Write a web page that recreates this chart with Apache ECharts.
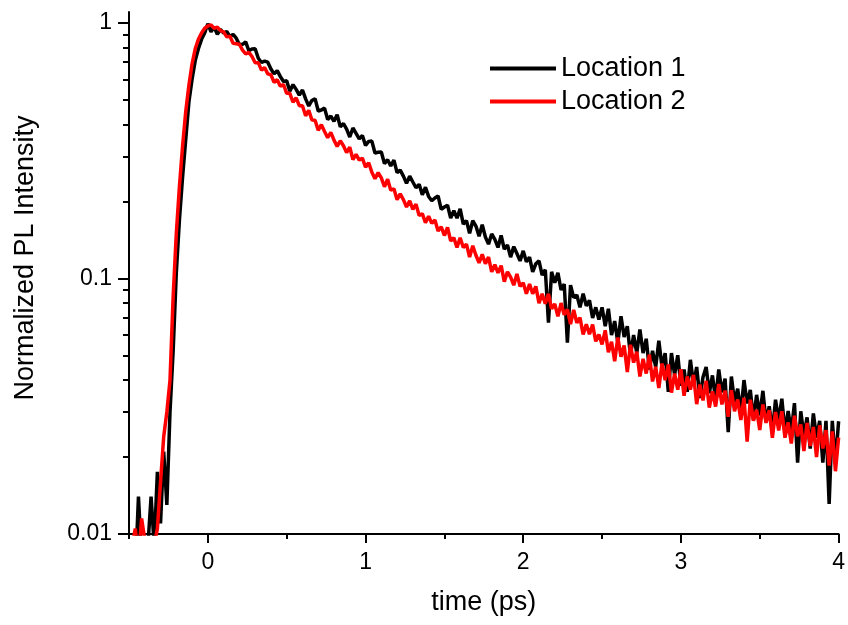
<!DOCTYPE html>
<html>
<head>
<meta charset="utf-8">
<script src="https://cdn.jsdelivr.net/npm/echarts@6.0.0/dist/echarts.min.js"></script>
<style>
  html, body { margin: 0; padding: 0; background: #fff; }
  #chart { width: 848px; height: 625px; }
</style>
</head>
<body>
<div id="chart"></div>
<script>
// time axis: samples every 0.02 ps starting at -0.5 ps
const T_START = -0.5;
const T_STEP = 0.02;

// Location 1 (black), normalized PL intensity
const loc1 = [
  0.006, 0.008, 0.007, 0.014, 0.008, 0.006, 0.009, 0.014, 0.009, 0.0175, 0.011, 0.021,
  0.013, 0.030, 0.052, 0.105, 0.17, 0.25, 0.35, 0.49, 0.60, 0.71, 0.79, 0.86, 0.91,
  0.99, 0.92, 0.96, 0.90, 0.94, 0.91,
  0.923, 0.881, 0.90, 0.869, 0.82, 0.822, 0.84,
  0.776, 0.788, 0.79, 0.725, 0.698, 0.707, 0.70, 0.658, 0.63, 0.649, 0.615, 0.588, 0.592,
  0.539, 0.572, 0.548, 0.52, 0.545, 0.503, 0.472, 0.496, 0.504, 0.451, 0.455, 0.463,
  0.418, 0.431, 0.411, 0.436, 0.391, 0.403, 0.383, 0.357, 0.387, 0.369, 0.351, 0.362, 0.331,
  0.343, 0.344, 0.309, 0.311, 0.312, 0.281, 0.291, 0.275, 0.29, 0.259, 0.265, 0.251,
  0.235, 0.251, 0.238, 0.226, 0.233, 0.212, 0.227, 0.209, 0.201, 0.206, 0.21, 0.186, 0.19,
  0.193, 0.172, 0.184, 0.172, 0.187, 0.163, 0.168, 0.15, 0.168, 0.16, 0.146, 0.162,
  0.145, 0.136, 0.149, 0.142, 0.132, 0.147, 0.13, 0.135, 0.121, 0.133, 0.125, 0.117, 0.128,
  0.116, 0.121, 0.106, 0.114, 0.117, 0.103, 0.108, 0.067, 0.106, 0.096, 0.105, 0.09,
  0.095, 0.056, 0.094, 0.084, 0.086, 0.077, 0.087, 0.078, 0.082, 0.070, 0.077, 0.069, 0.077,
  0.065, 0.076, 0.060, 0.068, 0.056, 0.071, 0.059, 0.065, 0.050, 0.060, 0.051, 0.063,
  0.051, 0.058, 0.044, 0.052, 0.045, 0.057, 0.045, 0.051, 0.036, 0.051, 0.042, 0.050, 0.038,
  0.044, 0.036, 0.048, 0.0385, 0.045, 0.034, 0.041, 0.045, 0.0355, 0.0417, 0.0336, 0.044,
  0.0358, 0.0405, 0.025, 0.0413, 0.0328, 0.037, 0.0298, 0.040, 0.0324, 0.0366, 0.0279, 0.035, 0.0291,
  0.0363, 0.0274, 0.0316, 0.0251, 0.0335, 0.0277, 0.0338, 0.025, 0.0303, 0.0251, 0.0325, 0.019,
  0.0302, 0.0242, 0.0286, 0.0216, 0.0296, 0.0238, 0.0277, 0.019, 0.0277, 0.0131, 0.0277, 0.019, 0.0276
];

// Location 2 (red)
const loc2 = [
  0.007, 0.009, 0.0105, 0.008, 0.0115, 0.0095, 0.007, 0.008, 0.009, 0.0105, 0.016, 0.024,
  0.030, 0.040, 0.085, 0.15, 0.23, 0.33, 0.45, 0.57, 0.69, 0.79, 0.86, 0.91, 0.95,
  0.97, 0.98, 0.95, 0.96, 0.93, 0.92,
  0.879, 0.884, 0.83, 0.827, 0.823, 0.78, 0.754,
  0.765, 0.737, 0.696, 0.697, 0.652, 0.667, 0.63, 0.625, 0.584, 0.598, 0.564, 0.572, 0.529,
  0.529, 0.488, 0.508, 0.473, 0.473, 0.432, 0.454, 0.416, 0.415, 0.379, 0.399, 0.375,
  0.355, 0.372, 0.347, 0.328, 0.345, 0.33, 0.31, 0.326, 0.291, 0.305, 0.29, 0.295, 0.272,
  0.283, 0.26, 0.245, 0.259, 0.247, 0.228, 0.244, 0.221, 0.224, 0.203, 0.214, 0.203,
  0.19, 0.201, 0.186, 0.195, 0.176, 0.179, 0.165, 0.175, 0.164, 0.169, 0.153, 0.159, 0.147,
  0.158, 0.14, 0.144, 0.132, 0.144, 0.132, 0.136, 0.121, 0.134, 0.123, 0.115, 0.124,
  0.114, 0.121, 0.106, 0.113, 0.105, 0.112, 0.097, 0.106, 0.101, 0.094, 0.104, 0.093, 0.096,
  0.087, 0.095, 0.087, 0.093, 0.080, 0.087, 0.0795, 0.087, 0.076, 0.0793, 0.071, 0.080,
  0.072, 0.0756, 0.0662, 0.0753, 0.067, 0.0702, 0.0603, 0.0661, 0.0604, 0.0659, 0.0567, 0.0603, 0.0551,
  0.0626, 0.0514, 0.0565, 0.0474, 0.0587, 0.0493, 0.0546, 0.043, 0.055, 0.0468, 0.0516, 0.0413,
  0.0484, 0.0424, 0.0503, 0.0395, 0.0451, 0.0372, 0.0464, 0.040, 0.046, 0.0357, 0.0424, 0.0367, 0.0441,
  0.0347, 0.0413, 0.0367, 0.0419, 0.0322, 0.0384, 0.0333, 0.0397, 0.0312, 0.0361, 0.0315, 0.0386,
  0.0321, 0.0364, 0.0287, 0.0365, 0.0302, 0.0336, 0.0279, 0.0341, 0.023, 0.0335, 0.0277, 0.0306, 0.0255,
  0.0321, 0.0272, 0.0305, 0.0238, 0.030, 0.0254, 0.0302, 0.0238, 0.0273, 0.0226, 0.029, 0.0241,
  0.0268, 0.0211, 0.0272, 0.0221, 0.0262, 0.020, 0.0266, 0.0216, 0.0255, 0.0185, 0.0252, 0.0176, 0.0238
];

const seriesNames = ['Location 1', 'Location 2'];
const seriesColors = ['#000000', '#ff0000'];

const xMajorTicks = [0, 1, 2, 3, 4];
const xMinorTicks = [-0.5, 0.5, 1.5, 2.5, 3.5];
const yMajorTicks = [0.01, 0.1, 1];
const yMinorTicks = [
  0.02, 0.03, 0.04, 0.05, 0.06, 0.07, 0.08, 0.09,
  0.2, 0.3, 0.4, 0.5, 0.6, 0.7, 0.8, 0.9
];

const toPairs = (values) => values.map((v, i) => [+(T_START + i * T_STEP).toFixed(2), v]);

const FONT = '"Liberation Sans", Arial, sans-serif';
const axisColor = '#000';

const chart = echarts.init(document.getElementById('chart'));
chart.setOption({
  animation: false,
  backgroundColor: '#fff',
  textStyle: { fontFamily: FONT },
  grid: { left: 129, right: 8, top: 12, bottom: 91 },
  legend: {
    orient: 'vertical',
    left: 490,
    top: 55,
    padding: 0,
    icon: 'rect',
    itemWidth: 66,
    itemHeight: 4,
    itemGap: 6,
    textStyle: { fontSize: 27, color: '#000', lineHeight: 27, fontFamily: FONT },
    data: seriesNames,
  },
  xAxis: [
    {
      type: 'value',
      min: -0.5,
      max: 4,
      position: 'bottom',
      name: 'time (ps)',
      nameLocation: 'middle',
      nameGap: 55,
      nameTextStyle: { fontSize: 27, color: '#000', fontFamily: FONT },
      axisLine: { onZero: false, lineStyle: { color: axisColor, width: 2 } },
      axisTick: { customValues: xMajorTicks, length: 9, lineStyle: { color: axisColor, width: 2 } },
      axisLabel: { customValues: xMajorTicks, fontSize: 23, color: '#000', margin: 17 },
      splitLine: { show: false },
    },
    {
      type: 'value',
      min: -0.5,
      max: 4,
      position: 'bottom',
      axisLine: { show: false, onZero: false },
      axisTick: { customValues: xMinorTicks, length: 5, lineStyle: { color: axisColor, width: 2 } },
      axisLabel: { show: false },
      splitLine: { show: false },
    },
  ],
  yAxis: [
    {
      type: 'log',
      logBase: 10,
      min: 0.01,
      max: 1.1,
      position: 'left',
      name: 'Normalized PL Intensity',
      nameLocation: 'middle',
      nameGap: 90,
      nameTextStyle: { fontSize: 27, color: '#000', fontFamily: FONT, padding: [0, 0, 0, 30] },
      axisLine: { onZero: false, lineStyle: { color: axisColor, width: 2 } },
      axisTick: { customValues: yMajorTicks, length: 11, lineStyle: { color: axisColor, width: 2 } },
      axisLabel: { customValues: yMajorTicks, fontSize: 23, color: '#000', margin: 17 },
      splitLine: { show: false },
    },
    {
      type: 'log',
      logBase: 10,
      min: 0.01,
      max: 1.1,
      position: 'left',
      axisLine: { show: false, onZero: false },
      axisTick: { customValues: yMinorTicks, length: 6, lineStyle: { color: axisColor, width: 2 } },
      axisLabel: { show: false },
      splitLine: { show: false },
    },
  ],
  series: [loc1, loc2].map((values, idx) => ({
    name: seriesNames[idx],
    type: 'line',
    xAxisIndex: 0,
    yAxisIndex: 0,
    data: toPairs(values),
    showSymbol: false,
    symbol: 'none',
    clip: true,
    color: seriesColors[idx],
    lineStyle: { color: seriesColors[idx], width: 3.5 },
  })),
});

window.addEventListener('resize', () => chart.resize());
</script>
</body>
</html>
